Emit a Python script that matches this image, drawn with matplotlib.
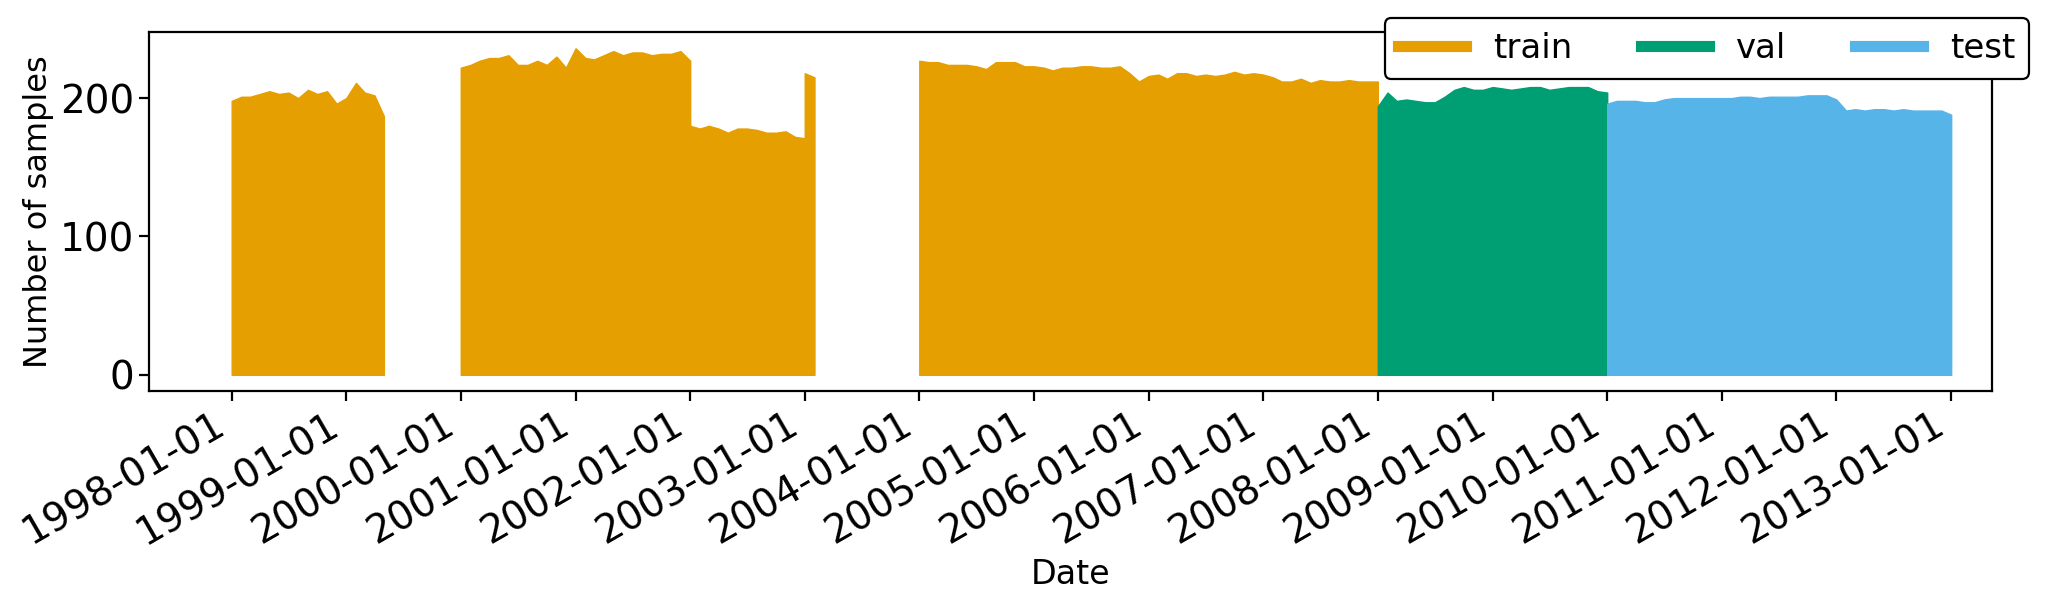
import numpy as np
import pandas as pd
import matplotlib
matplotlib.use('Agg')
import matplotlib.pyplot as plt
import matplotlib.dates as mdates
from matplotlib.lines import Line2D

# samples per day, read off the figure roughly once a month
# (one value per month start, last value is at the end of the block)
train_1998 = [198, 201, 201, 203, 205, 203, 204, 200, 206, 203, 205, 196,
              200, 211, 204, 202, 187]                      # 1998-01 .. 1999-05
train_2000 = [222, 224, 227, 229, 229, 231, 224, 224, 227, 224, 230, 222,
              236, 229, 228, 231, 234, 231, 233, 233, 231, 232, 232, 234,
              227]                                          # 2000-01 .. 2002-01
train_2002 = [180, 178, 180, 178, 175, 178, 178, 177, 175, 175, 176, 172,
              171]                                          # 2002-01 .. 2003-01
train_2003 = [218, 215]                                     # 2003-01 .. 2003-02
train_2004 = [227, 226, 226, 224, 224, 224, 223, 221, 226, 226, 226, 223,
              223, 222, 220, 222, 222, 223, 223, 222, 222, 223, 218, 212,
              216, 217, 214, 218, 218, 216, 217, 216, 217, 219, 217, 218,
              217, 215, 212, 212, 214, 211, 213, 212, 212, 213, 212, 212,
              212]                                          # 2004-01 .. 2008-01
val_2008 = [194, 204, 198, 199, 198, 197, 197, 201, 206, 208, 206, 206,
            208, 207, 206, 207, 208, 208, 206, 207, 208, 208, 208, 205,
            204]                                            # 2008-01 .. 2010-01
test_2010 = [196, 198, 198, 198, 197, 197, 199, 200, 200, 200, 200, 200,
             200, 200, 201, 201, 200, 201, 201, 201, 201, 202, 202, 202,
             199, 191, 192, 191, 192, 192, 191, 192, 191, 191, 191, 191,
             188]                                           # 2010-01 .. 2013-01

blocks = [("1998-01-01", train_1998, "train"),
          ("2000-01-01", train_2000, "train"),
          ("2002-01-01", train_2002, "train"),
          ("2003-01-01", train_2003, "train"),
          ("2004-01-01", train_2004, "train"),
          ("2008-01-01", val_2008, "val"),
          ("2010-01-01", test_2010, "test")]

colors = {"train": "#E69F00", "val": "#009E73", "test": "#56B4E9"}

x_range = ["1997-04-12", "2013-05-11"]

############ Figure ############
fig = plt.figure(figsize=(20.67, 5.99), dpi=100)
ax = fig.add_axes([0.072, 0.347, 0.8917, 0.5996])

for start, vals, split in blocks:
    dates = pd.date_range(start, periods=len(vals), freq="MS")
    ax.fill_between(dates, 0, vals, color=colors[split], lw=1.0)

ax.set_xlim(pd.to_datetime(x_range[0]), pd.to_datetime(x_range[1]))
ax.xaxis.set_major_locator(mdates.YearLocator())
ax.xaxis.set_major_formatter(mdates.DateFormatter("%Y-%m-%d"))
plt.setp(ax.get_xticklabels(), rotation=30, ha="right")
ax.set_yticks([0, 100, 200])

ax.tick_params(labelsize=28, length=7, width=1.6)
for sp in ax.spines.values():
    sp.set_linewidth(1.6)

ax.set_xlabel("Date", fontsize=24)
ax.set_ylabel("Number of samples", fontsize=23)

handles = [Line2D([0], [0], color=colors[k], lw=8) for k in ["train", "val", "test"]]
leg = ax.legend(handles, ["train", "val", "test"], ncol=3, loc="upper right",
                bbox_to_anchor=(1.020, 1.038), borderaxespad=0, fontsize=24.5,
                framealpha=1, edgecolor="black")
leg.get_frame().set_linewidth(1.6)

plt.savefig("out.png", dpi=100)
